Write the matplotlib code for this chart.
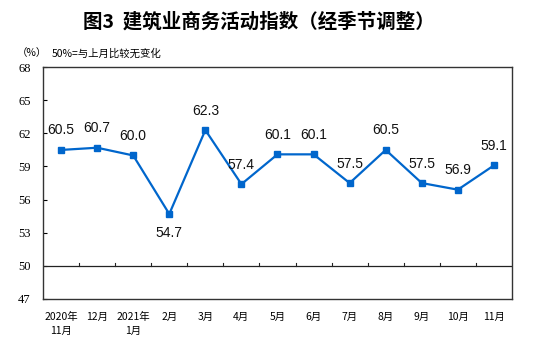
import matplotlib
matplotlib.use('Agg')
import matplotlib.pyplot as plt

months = ['2020年\n11月', '12月', '2021年\n1月', '2月', '3月', '4月', '5月',
          '6月', '7月', '8月', '9月', '10月', '11月']
index_values = [60.5, 60.7, 60.0, 54.7, 62.3, 57.4, 60.1, 60.1, 57.5, 60.5, 57.5, 56.9, 59.1]
y_ticks = [47, 50, 53, 56, 59, 62, 65, 68]

cjk = ['Noto Sans CJK SC', 'DejaVu Sans']
line_color = '#0066CC'

fig = plt.figure(figsize=(5.53, 3.43), dpi=100)
ax = fig.add_axes([0.0778, 0.1283, 0.848, 0.676])

x = list(range(len(months)))
ax.plot(x, index_values, color=line_color, linewidth=1.6,
        marker='s', markersize=4.5, zorder=3)

# value labels: above the point, except where the line dips sharply
for i, v in enumerate(index_values):
    below = v == min(index_values)
    ax.annotate(f'{v:.1f}', (i, v), xytext=(0, -14 if below else 14),
                textcoords='offset points', ha='center', va='center',
                fontsize=10, family='Liberation Sans', color='#111111')

ax.set_xlim(-0.5, len(months) - 0.5)
ax.set_ylim(47, 68)
ax.set_yticks(y_ticks)
ax.set_yticklabels([str(t) for t in y_ticks], family='Liberation Serif', fontsize=9)
ax.tick_params(axis='y', direction='in', length=3, pad=9, width=0.8)

ax.set_xticks(x)
ax.set_xticklabels(months, family=cjk, fontsize=7.5, linespacing=1.5)
ax.tick_params(axis='x', length=0, pad=9)

for s in ax.spines.values():
    s.set_linewidth(1.0)
    s.set_color('#333333')

# reference line at 50 with category separators
ax.axhline(50, color='#222222', linewidth=0.9, zorder=2)
frac = (50 - 47) / (68 - 47)
for b in x[:-1]:
    ax.axvline(b + 0.5, ymin=frac, ymax=frac + 0.014, color='#222222', linewidth=0.8)

fig.text(0.469, 0.935, '图3  建筑业商务活动指数（经季节调整）', ha='center', va='center',
         family=cjk, fontsize=14, fontweight='bold')
fig.text(0.03, 0.845, '（%）', ha='left', va='center', family=cjk, fontsize=7.5)
fig.text(0.093, 0.845, '50%=与上月比较无变化', ha='left', va='center', family=cjk, fontsize=7.5)

fig.savefig('out.png', dpi=100)
